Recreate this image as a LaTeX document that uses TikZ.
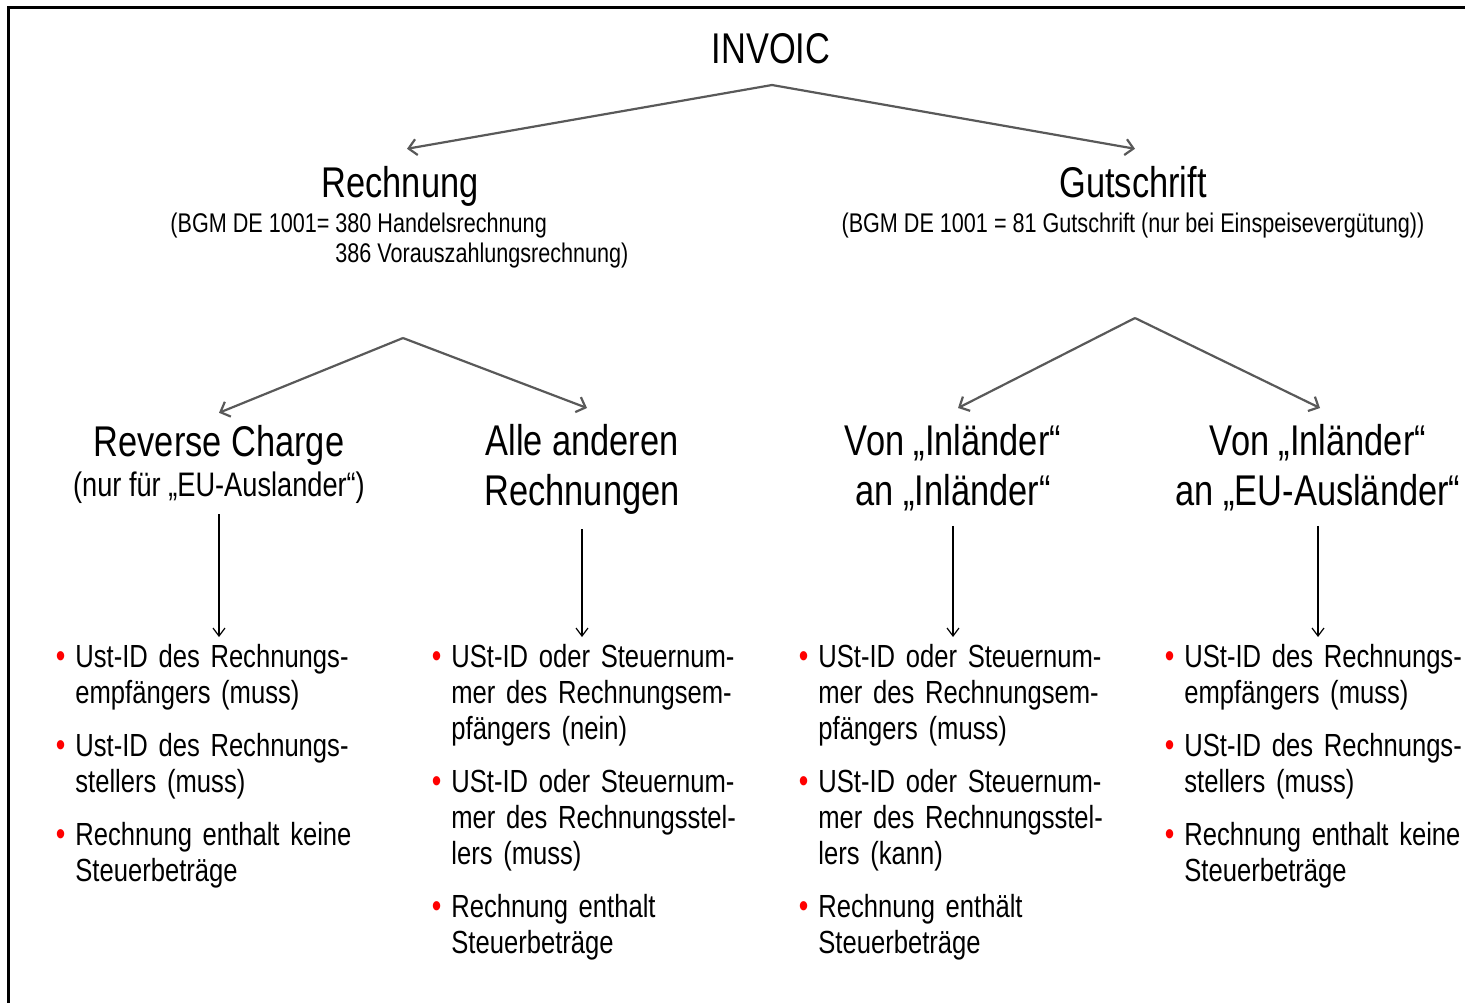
\documentclass[tikz,border=0pt]{standalone}
\usepackage{fontspec}
\setmainfont{Liberation Sans}[FakeStretch=0.8]
\usepackage{xcolor}
\usepackage{enumitem}
\usepackage{tikz}
\usetikzlibrary{arrows.meta,positioning,calc}

\newcommand{\redbullet}{\textcolor{red}{\fontsize{17}{17}\selectfont\textbullet}}
\setlist[itemize]{label=\redbullet, leftmargin=11pt, labelwidth=5pt, labelsep=5pt,
  itemsep=8.5pt, topsep=0pt, partopsep=0pt, parsep=0pt}

\begin{document}
\begin{tikzpicture}[
    x=0.5pt, y=-0.5pt,
    title/.style={font=\fontsize{21.5}{25}\selectfont},
    head/.style={font=\fontsize{21.5}{25}\selectfont, align=center},
    sub/.style={font=\fontsize{13.5}{15}\selectfont},
    note/.style={font=\fontsize{17}{20}\selectfont},
    list/.style={font=\fontsize{16}{18}\selectfont, text width=180pt, inner sep=0pt, anchor=north west},
    split/.style={-{Straight Barb[length=4pt,width=8pt]}, draw=black!65, line width=1.1pt},
    down/.style={-{Straight Barb[length=4pt,width=6pt]}, line width=0.6pt, shorten >=-3pt}
]
    \useasboundingbox (0,0) rectangle (1465,1003);
    \draw[line width=1.5pt] (1465,7) -- (8,7) -- (8,1003);

    \node[title, anchor=base] (invoic) at (771,63) {INVOIC};

    % first level
    \node[head, anchor=base] (rech) at (400,197) {Rechnung};
    \node[sub, anchor=base west, inner sep=0pt] (rech-sub) at (170,232)
        {\begin{tabular}[t]{@{}l@{ }l@{}}(BGM DE 1001= & 380 Handelsrechnung\\ & 386 Vorauszahlungsrechnung)\end{tabular}};
    \node[head, anchor=base] (gut) at (1133,197) {Gutschrift};
    \node[sub, anchor=base] (gut-sub) at (1133,232) {(BGM DE 1001 = 81 Gutschrift (nur bei Einspeisevergütung))};

    \coordinate (inv-split) at (772,85);
    \draw[split] (inv-split) -- ([xshift=3.5pt,yshift=5pt]rech.north);
    \draw[split] (inv-split) -- ([xshift=1pt,yshift=5pt]gut.north);

    % second level
    \node[head, anchor=base] (rc) at (219,456) {Reverse Charge};
    \node[note, anchor=base] (rc-sub) at (219,496) {(nur für „EU-Auslander“)};
    \node[head, anchor=north] (alle) at (582,417) {Alle anderen\\Rechnungen};
    \node[head, anchor=north] (inl) at (953,417) {Von „Inländer“\\an „Inländer“};
    \node[head, anchor=north] (eu) at (1318,417) {Von „Inländer“\\an „EU-Ausländer“};

    \coordinate (rech-split) at (403,338);
    \coordinate (gut-split) at (1135,318);
    \draw[split] (rech-split) -- ([yshift=2.5pt]rc.north);
    \draw[split] (rech-split) -- ([xshift=2.5pt,yshift=4.5pt]alle.north);
    \draw[split] (gut-split) -- ([xshift=2.5pt,yshift=4.5pt]inl.north);
    \draw[split] (gut-split) -- ([xshift=1pt,yshift=4.5pt]eu.north);

    % lists
    \node[list] (list1) at (53,631) {\begin{itemize}
        \item Ust-ID des Rechnungs-\\empfängers (muss)
        \item Ust-ID des Rechnungs-\\stellers (muss)
        \item Rechnung enthalt keine\\Steuerbeträge
    \end{itemize}};
    \node[list] (list2) at (429,631) {\begin{itemize}
        \item USt-ID oder Steuernum-\\mer des Rechnungsem-\\pfängers (nein)
        \item USt-ID oder Steuernum-\\mer des Rechnungsstel-\\lers (muss)
        \item Rechnung enthalt\\Steuerbeträge
    \end{itemize}};
    \node[list] (list3) at (796,631) {\begin{itemize}
        \item USt-ID oder Steuernum-\\mer des Rechnungsem-\\pfängers (muss)
        \item USt-ID oder Steuernum-\\mer des Rechnungsstel-\\lers (kann)
        \item Rechnung enthält\\Steuerbeträge
    \end{itemize}};
    \node[list] (list4) at (1162,631) {\begin{itemize}
        \item USt-ID des Rechnungs-\\empfängers (muss)
        \item USt-ID des Rechnungs-\\stellers (muss)
        \item Rechnung enthalt keine\\Steuerbeträge
    \end{itemize}};

    \draw[down, shorten <=2pt] (rc-sub.south) -- (rc-sub.south |- list1.north);
    \draw[down, shorten <=4pt] (alle.south) -- (alle.south |- list2.north);
    \draw[down, shorten <=4pt] (inl.south) -- (inl.south |- list3.north);
    \draw[down, shorten <=4pt] (eu.south) -- (eu.south |- list4.north);
\end{tikzpicture}
\end{document}
